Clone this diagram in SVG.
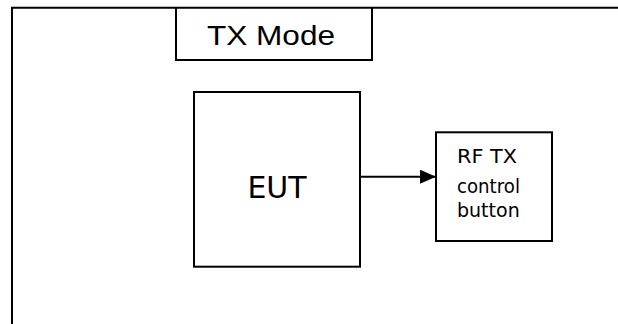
<svg xmlns="http://www.w3.org/2000/svg" width="618" height="324" viewBox="0 0 618 324">
  <style>
    .box { fill: #ffffff; stroke: #000000; stroke-width: 2; }
    .frame { fill: none; stroke: #000000; stroke-width: 2; }
    .title { font-family: "Liberation Sans", Arial, sans-serif; font-size: 28px; fill: #000000; }
    .label { font-family: "DejaVu Sans", sans-serif; fill: #000000; }
    .conn { stroke: #000000; stroke-width: 2; fill: none; }
  </style>
  <defs>
    <marker id="arrow" markerWidth="16" markerHeight="14" refX="16" refY="7" orient="auto" markerUnits="userSpaceOnUse">
      <path d="M0,0 L16,7 L0,14 Z" fill="#000000"/>
    </marker>
  </defs>
  <rect width="618" height="324" fill="#ffffff"/>

  <!-- outer frame: top edge and left edge -->
  <path class="frame" d="M12,324 L12,7.7 L618,7.7"/>

  <g id="tx-mode">
    <path class="frame" d="M176,7.7 L176,60 L372,60 L372,7.7"/>
    <text class="title" x="207" y="45" textLength="128" lengthAdjust="spacingAndGlyphs">TX Mode</text>
  </g>

  <g id="eut">
    <rect class="box" x="194" y="92" width="166" height="174.7"/>
    <text class="label" x="277" y="198" font-size="30" text-anchor="middle">EUT</text>
  </g>

  <g id="rf-tx-button">
    <rect class="box" x="436" y="132.3" width="116" height="108.7"/>
    <text class="label" x="457" y="162.5" font-size="20" textLength="60" lengthAdjust="spacingAndGlyphs">RF TX</text>
    <text class="label" x="457" y="193" font-size="19" textLength="63" lengthAdjust="spacingAndGlyphs">control</text>
    <text class="label" x="457" y="217" font-size="19">button</text>
  </g>

  <g id="connectors">
    <line class="conn" x1="360" y1="176.7" x2="436" y2="176.7" marker-end="url(#arrow)"/>
  </g>
</svg>
